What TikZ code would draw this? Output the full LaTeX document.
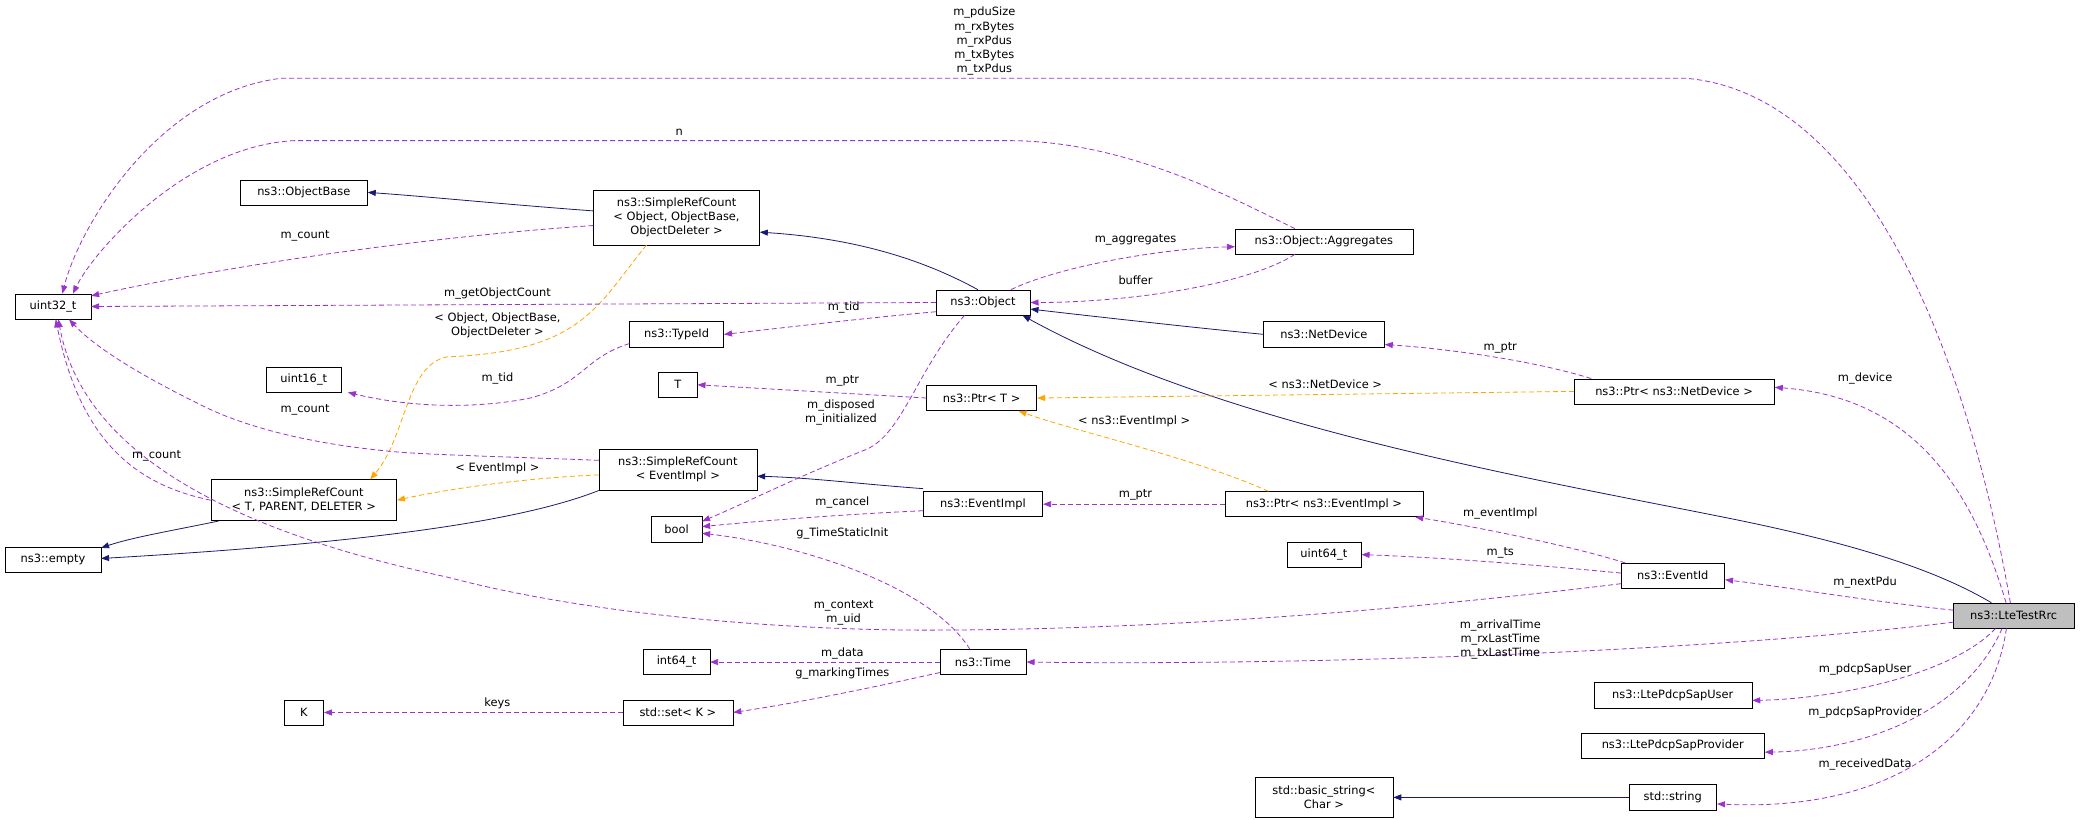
\documentclass[tikz,border=0pt]{standalone}
\usepackage{fontspec}
\setmainfont{DejaVu Sans}
\usetikzlibrary{arrows.meta}
\definecolor{navy}{HTML}{191970}
\definecolor{purp}{HTML}{9A32CD}
\definecolor{orng}{HTML}{FFA500}
\begin{document}
\begin{tikzpicture}[x=1pt,y=-1pt,scale=1.3265,transform shape,
  every node/.style={font=\fontsize{8.6}{10.6}\selectfont},
  box/.style={draw,rectangle,minimum height=19pt,inner sep=2pt,align=center},
  inh/.style={navy,line width=0.8pt,-{Triangle[length=8pt,width=6pt]}},
  use/.style={purp,dash pattern=on 5pt off 3pt,line width=0.8pt,-{Triangle[length=8pt,width=6pt]}},
  tpl/.style={orng,dash pattern=on 5pt off 3pt,line width=0.8pt,-{Triangle[length=8pt,width=6pt]}},
  lbl/.style={align=center,inner sep=0pt}]
\useasboundingbox (0,0) rectangle (1568,617.4);
\node[box,minimum width=57pt] (u32) at (40,231) {uint32\_t};
\node[box,minimum width=96pt] (ob) at (229,145) {ns3::ObjectBase};
\node[box,minimum width=125pt,minimum height=41pt] (src1) at (510,164) {ns3::SimpleRefCount\\\textless{} Object, ObjectBase,\\ObjectDeleter \textgreater{}};
\node[box,minimum width=71pt] (obj) at (741,228) {ns3::Object};
\node[box,minimum width=134pt] (agg) at (998,182) {ns3::Object::Aggregates};
\node[box,minimum width=71pt] (tid) at (510,252) {ns3::TypeId};
\node[box,minimum width=56pt] (u16) at (229,286) {uint16\_t};
\node[box,minimum width=29pt] (T) at (511,290) {T};
\node[box,minimum width=83pt] (ptrT) at (740,300) {ns3::Ptr\textless{} T \textgreater{}};
\node[box,minimum width=91pt] (nd) at (998,252) {ns3::NetDevice};
\node[box,minimum width=151pt] (ptrND) at (1262,295) {ns3::Ptr\textless{} ns3::NetDevice \textgreater{}};
\node[box,minimum width=140pt,minimum height=31pt] (srcT) at (229,377) {ns3::SimpleRefCount\\\textless{} T, PARENT, DELETER \textgreater{}};
\node[box,minimum width=119pt,minimum height=31pt] (srcE) at (511,354) {ns3::SimpleRefCount\\\textless{} EventImpl \textgreater{}};
\node[box,minimum width=72pt] (empty) at (40,422) {ns3::empty};
\node[box,minimum width=38pt] (bool) at (510,399) {bool};
\node[box,minimum width=90pt] (ei) at (741,380) {ns3::EventImpl};
\node[box,minimum width=149pt] (ptrEI) at (998,380) {ns3::Ptr\textless{} ns3::EventImpl \textgreater{}};
\node[box,minimum width=56pt] (u64) at (998,418) {uint64\_t};
\node[box,minimum width=78pt] (eid) at (1261,434) {ns3::EventId};
\node[box,minimum width=91pt,fill=black!25] (rrc) at (1518,464) {ns3::LteTestRrc};
\node[box,minimum width=50pt] (i64) at (510,499) {int64\_t};
\node[box,minimum width=65pt] (time) at (741,499) {ns3::Time};
\node[box,minimum width=119pt] (psu) at (1261,524) {ns3::LtePdcpSapUser};
\node[box,minimum width=30pt] (K) at (229,537) {K};
\node[box,minimum width=83pt] (set) at (511,537) {std::set\textless{} K \textgreater{}};
\node[box,minimum width=138pt] (psp) at (1261,562) {ns3::LtePdcpSapProvider};
\node[box,minimum width=104pt,minimum height=30pt] (bs) at (998,601) {std::basic\_string\textless{}\\Char \textgreater{}};
\node[box,minimum width=66pt] (str) at (1261,601) {std::string};
\coordinate (rrcTop) at ([xshift=-3pt]rrc.north);
\coordinate (rrcBot) at ([xshift=-6pt]rrc.south);

% inheritance
\draw[inh] (src1.west |- 0,159) .. controls (380,154) and (320,148) .. (ob.east);
\draw[inh] ([xshift=-4pt]obj.north) .. controls (700,198) and (650,180) .. (src1.east |- 0,175);
\draw[inh] (nd.west) .. controls (900,247) and (820,238) .. (obj.east |- 0,233);
\draw[inh] ([xshift=-17pt]rrc.north) .. controls (1460,430) and (1400,410) .. (1300,390) .. controls (1150,360) and (920,320) .. ([xshift=-6pt]obj.south east);
\draw[inh] ([yshift=2pt]ei.north west) .. controls (650,365) and (610,360) .. (srcE.east |- 0,359);
\draw[inh] (srcE.south west) .. controls (400,390) and (300,408) .. (empty.east |- 0,421);
\draw[inh] ([xshift=6pt]srcT.south west) .. controls (130,400) and (100,405) .. (empty.east |- 0,413);
\draw[inh] (str.west) -- (bs.east |- str.west);

% template
\draw[tpl] ([xshift=40pt]src1.south west) .. controls (450,230) and (440,265) .. (337,269) .. controls (306,275) and (306,330) .. ([xshift=50pt]srcT.north);
\draw[tpl] (srcE.west |- 0,358) .. controls (400,360) and (340,368) .. (srcT.east);
\draw[tpl] (ptrND.west) -- (ptrT.east);
\draw[tpl] ([xshift=-42pt]ptrEI.north) .. controls (900,345) and (810,325) .. ([xshift=-14pt]ptrT.south east);

% usage
\draw[use] (rrcTop) .. controls (1480,250) and (1400,70) .. (1271,59) -- (212,59) .. controls (120,70) and (60,170) .. ([xshift=7pt]u32.north);
\draw[use] ([xshift=-22pt]agg.north) .. controls (930,150) and (850,106) .. (760,106) -- (222,106) .. controls (140,110) and (70,190) .. ([xshift=15pt]u32.north);
\draw[use] (src1.west |- 0,170) .. controls (300,180) and (150,205) .. (u32.east |- 0,223);
\draw[use] (obj.west) -- (u32.east);
\draw[use] ([xshift=21pt]obj.north) .. controls (800,200) and (880,187) .. (agg.west |- 0,186);
\draw[use] ([xshift=-22pt]agg.south) .. controls (940,215) and (850,228) .. (obj.east);
\draw[use] (obj.west |- 0,235) .. controls (650,240) and (600,246) .. (tid.east);
\draw[use] (tid.west |- 0,259) .. controls (440,270) and (440,289) .. (400,300) .. controls (350,310) and (300,305) .. ([xshift=5pt]u16.south east);
\draw[use] ([xshift=-14pt]obj.south) .. controls (690,280) and (680,330) .. (650,340) .. controls (600,360) and (560,380) .. (bool.east |- 0,393);
\draw[use] (ptrT.west) -- (T.east);
\draw[use] ([xshift=13pt]ptrND.north west) .. controls (1150,270) and (1080,262) .. ([yshift=2pt]nd.south east);
\draw[use] ([xshift=-6pt]rrc.north) .. controls (1490,380) and (1450,300) .. (ptrND.east |- 0,292);
\draw[use] (srcE.west |- 0,347) .. controls (400,345) and (330,343) .. (303,341) .. controls (230,335) and (180,320) .. (151,305) .. controls (100,280) and (70,260) .. ([xshift=12pt]u32.south);
\draw[use] (srcT.west) .. controls (100,365) and (60,330) .. ([xshift=2pt]u32.south);
\draw[use] (ei.west |- 0,385) .. controls (630,388) and (570,393) .. (bool.east |- 0,397);
\draw[use] (ptrEI.west) -- (ei.east);
\draw[use] ([xshift=-36pt]eid.north) .. controls (1180,410) and (1100,395) .. ([xshift=-6pt]ptrEI.south east);
\draw[use] (eid.west |- 0,432) .. controls (1150,425) and (1080,420) .. (u64.east);
\draw[use] (eid.west |- 0,440) .. controls (1100,455) and (900,475) .. (697,475) .. controls (600,475) and (450,465) .. (337,435) .. controls (150,395) and (60,330) .. ([xshift=4pt]u32.south);
\draw[use] (rrc.west |- 0,460) .. controls (1400,452) and (1350,443) .. (eid.east |- 0,437);
\draw[use] ([xshift=-10pt]time.north) .. controls (700,440) and (600,410) .. (bool.east |- 0,402);
\draw[use] (time.west) -- (i64.east);
\draw[use] (time.west |- 0,507) .. controls (650,520) and (600,530) .. (set.east);
\draw[use] (set.west) -- (K.east);
\draw[use] (rrc.west |- 0,469) .. controls (1300,490) and (1000,502) .. (time.east);
\draw[use] ([xshift=-14pt]rrc.south) .. controls (1470,510) and (1380,527) .. (psu.east |- 0,528);
\draw[use] ([xshift=-9pt]rrc.south) .. controls (1480,540) and (1400,566) .. (psp.east |- 0,567);
\draw[use] (rrcBot) .. controls (1500,560) and (1420,612) .. (str.east |- 0,606);

% labels
\node[lbl] at (742,31) {m\_pduSize\\m\_rxBytes\\m\_rxPdus\\m\_txBytes\\m\_txPdus};
\node[lbl] at (512,100) {n};
\node[lbl] at (230,178) {m\_count};
\node[lbl] at (375,221) {m\_getObjectCount};
\node[lbl] at (856,181) {m\_aggregates};
\node[lbl] at (856,211) {buffer};
\node[lbl] at (636,232) {m\_tid};
\node[lbl] at (375,285) {m\_tid};
\node[lbl] at (375,245) {\textless{} Object, ObjectBase,\\ObjectDeleter \textgreater{}};
\node[lbl] at (635,287) {m\_ptr};
\node[lbl] at (634,311) {m\_disposed\\m\_initialized};
\node[lbl] at (230,309) {m\_count};
\node[lbl] at (118,344) {m\_count};
\node[lbl] at (375,353) {\textless{} EventImpl \textgreater{}};
\node[lbl] at (635,379) {m\_cancel};
\node[lbl] at (856,373) {m\_ptr};
\node[lbl] at (999,290) {\textless{} ns3::NetDevice \textgreater{}};
\node[lbl] at (1131,262) {m\_ptr};
\node[lbl] at (855,318) {\textless{} ns3::EventImpl \textgreater{}};
\node[lbl] at (1406,285) {m\_device};
\node[lbl] at (1131,387) {m\_eventImpl};
\node[lbl] at (1131,417) {m\_ts};
\node[lbl] at (1406,439) {m\_nextPdu};
\node[lbl] at (635,402) {g\_TimeStaticInit};
\node[lbl] at (636,462) {m\_context\\m\_uid};
\node[lbl] at (1131,482) {m\_arrivalTime\\m\_rxLastTime\\m\_txLastTime};
\node[lbl] at (635,493) {m\_data};
\node[lbl] at (635,508) {g\_markingTimes};
\node[lbl] at (375,530) {keys};
\node[lbl] at (1406,505) {m\_pdcpSapUser};
\node[lbl] at (1406,537) {m\_pdcpSapProvider};
\node[lbl] at (1406,576) {m\_receivedData};
\end{tikzpicture}
\end{document}
